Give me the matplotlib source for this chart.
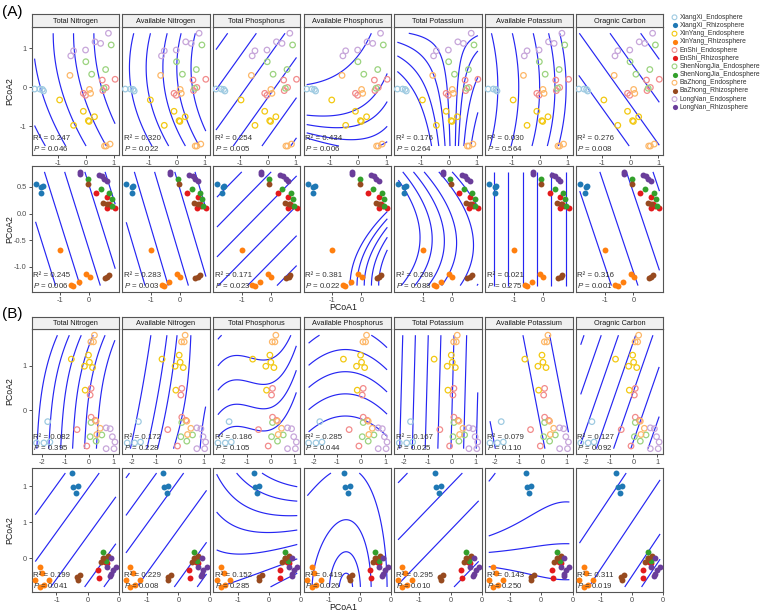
import numpy as np
import matplotlib.pyplot as plt
from matplotlib import rcParams

rcParams['font.family'] = ['Liberation Sans', 'DejaVu Sans']
rcParams['mathtext.fontset'] = 'custom'
rcParams['mathtext.rm'] = 'Liberation Sans'
rcParams['mathtext.it'] = 'Liberation Sans:italic'
rcParams['contour.negative_linestyle'] = 'solid'

# groups / legend
groups = ['XiangXi_Endosphere', 'XiangXi_Rhizosphere', 'XinYang_Endosphere', 'XinYang_Rhizosphere',
          'EnShi_Endosphere', 'EnShi_Rhizosphere', 'ShenNongJia_Endosphere', 'ShenNongJia_Endosphere',
          'BaZhong_Endosphere', 'BaZhong_Rhizosphere', 'LongNan_Endosphere', 'LongNan_Rhizosphere']
colors = ['#9ECAE1', '#1F78B4', '#F2C811', '#FF7F0E', '#F28B8B', '#E31A1C',
          '#9BD37F', '#33A02C', '#FDB768', '#974A1F', '#C7A6DA', '#6A3D9A']
variables = ['Total Nitrogen', 'Available Nitrogen', 'Total Phosphorus', 'Available Phosphorus',
             'Total Potassium', 'Available Potassium', 'Oragnic Carbon']

# (A) endosphere samples
ae_x = [-1.85, -1.66, -1.57, -1.53,
        -0.95, -0.10, 0.08, 0.11, 0.30, -0.45,
        0.58, 1.04, -0.10, -0.02, 0.60, 0.72,
        0.90, -0.01, 0.20, 0.70, 0.64,
        -0.58, 0.12, 0.16, 0.66, 0.72, 0.86,
        0.80, 0.32, 0.52, -0.45, -0.55, -0.02]
ae_y = [-0.05, -0.05, -0.06, -0.10,
        -0.33, -0.62, -0.86, -0.88, -0.76, -0.98,
        0.18, 0.20, -0.16, -0.21, -0.09, -0.01,
        1.08, 0.65, 0.33, 0.45, -0.03,
        0.30, -0.06, -0.16, -1.51, -1.51, -1.46,
        1.38, 1.16, 1.12, 0.93, 0.80, 0.95]
ae_g = [0]*4 + [2]*6 + [4]*6 + [6]*5 + [8]*6 + [10]*6

# (A) rhizosphere samples
ar_x = [-1.86, -1.66, -1.61, -1.67,
        -1.00, -0.63, -0.55, -0.37, -0.10, 0.01,
        0.24, 0.61, 0.60, 0.74, 0.90, 0.68,
        -0.06, 0.41, 0.70, 0.78, 0.80,
        -0.05, 0.49, 0.62, 0.53, 0.62, 0.68,
        -0.33, -0.33, 0.33, 0.44, 0.52, 0.61]
ar_y = [0.55, 0.50, 0.51, 0.39,
        -0.68, -1.33, -1.35, -1.28, -1.14, -1.18,
        0.39, 0.30, 0.11, 0.14, 0.10, 0.18,
        0.65, 0.46, 0.39, 0.28, 0.14,
        0.56, 0.20, 0.18, -1.20, -1.18, -1.16,
        0.78, 0.74, 0.73, 0.70, 0.65, 0.61]
ar_g = [1]*4 + [3]*6 + [5]*6 + [7]*5 + [9]*6 + [11]*6

# (B) endosphere samples
be_x = [-1.74, -2.21, -1.90, -1.65,
        -0.75, -0.03, 0.01, -0.20, 0.14, -0.17,
        0.08, 0.04, 0.08, 0.25, -0.51, -0.10,
        0.08, 0.04, 0.29, 0.53,
        0.22, 0.07, 0.18, 0.29, 0.46, 0.32,
        0.71, 0.88, 0.97, 1.08, 0.71, 1.04]
be_y = [-0.26, -0.74, -0.74, -0.72,
        1.15, 1.24, 1.08, 0.99, 0.96, 0.45,
        0.49, 0.34, -0.16, -0.23, -0.44, -0.81,
        -0.28, -0.60, -0.70, -0.56,
        1.69, 1.54, 1.54, -0.25, -0.41, -0.55,
        -0.40, -0.42, -0.60, -0.72, -0.87, -0.87]
be_g = [0]*4 + [2]*6 + [4]*6 + [6]*4 + [8]*6 + [10]*6

# (B) rhizosphere samples
br_x = [-0.75, -0.73, -0.66, -0.69,
        -1.27, -1.23, -1.34, -1.12, -1.20, -1.27,
        -0.33, -0.32, -0.19, -0.22,
        -0.25, -0.24, -0.18, -0.20,
        -0.67, -0.62, -0.66, -0.29, -0.18, -0.25,
        -0.13, -0.19, -0.05, -0.10, -0.13, -0.14]
br_y = [1.18, 0.98, 1.00, 0.91,
        -0.12, -0.20, -0.31, -0.31, -0.37, -0.40,
        -0.16, -0.27, -0.07, -0.05,
        0.09, 0.00, 0.02, -0.04,
        -0.26, -0.24, -0.31, -0.05, 0.03, 0.00,
        0.00, -0.13, -0.12, -0.16, -0.22, -0.25]
br_g = [1]*4 + [3]*6 + [5]*4 + [7]*4 + [9]*6 + [11]*6

# fitted surfaces (ordisurf), polynomial in u=x-x0, v=y-y0
# terms: u, v, u2, uv, v2, u3, u2v, uv2, v3
ae_origin = [(0, 0), (0, 0), (0, 0), (0, 0), (0.15, 1.6), (0, 0), (0, 0)]
ae_coef = [[1, 0.39, 0, 0, -0.14, 0, 0, 0, 0],
           [1, 0.2, 0, 0, -0.2, 0, 0, 0, 0],
           [-1, 1, 0, 0, 0, 0, 0, 0, 0],
           [-0.6, 1, -0.12, -0.4, 0, 0, 0, 0, 0],
           [0, 0, 0, 1, 0, 0, 0, 0, 0],
           [1, 0, 0, 0, 0.12, 0, 0, 0, 0],
           [1, 1, 0, 0, 0, 0, 0, 0, 0]]
ae_levels = [[-2.37, -1.64, -0.91, -0.18, 0.55],
             [-1.65, -1.05, -0.45, 0.05, 0.56],
             [-2.34, -1.31, -0.28, 0.75, 1.78, 2.81],
             [-1.57, -1.34, -0.97, -0.55, 0.81],
             [-2.0, -1.2, -0.6, -0.25, 0.35, 0.9, 1.6, 2.4],
             [-1.5, -0.75, 0.0, 0.55, 0.95],
             [-1.55, -0.45, 0.65, 1.75]]
ae_r2 = ['0.247', '0.320', '0.254', '0.434', '0.176', '0.030', '0.276']
ae_p = ['0.046', '0.022', '0.005', '0.006', '0.264', '0.564', '0.008']

ar_origin = [(0, 0), (0, 0), (0, 0), (0, -1.35), (0, 0), (0, 0), (0, 0)]
ar_coef = [[1, 0.58, 0, 0, 0, 0, 0, 0, 0],
           [1, 0.55, 0, 0, 0, 0, 0, 0, 0],
           [-0.55, 1, 0, 0, 0, 0, 0, 0, 0],
           [1, 0, 0, 0, -0.67, 0, 0, 0, 0],
           [1, 0.74, 0, 0.105, 0.69, 0, 0, 0, 0],
           [1, 0, 0, 0, 0, 0, 0, 0, 0],
           [1, 0.62, 0, 0, 0, 0, 0, 0, 0]]
ar_levels = [[-1.95, -1.1, -0.4, 0.3, 1.0],
             [-1.95, -1.15, -0.45, 0.25, 0.95],
             [-1.47, -0.91, -0.35, 0.21, 0.77, 1.33],
             [-0.39, -0.15, 0.1, 0.35, 0.6],
             [-1.25, -0.85, -0.45, -0.05, 0.5, 1.0],
             [-1.7, -1.2, -0.7, -0.2, 0.3, 0.8],
             [-1.6, -0.68, 0.24, 1.16]]
ar_r2 = ['0.245', '0.283', '0.171', '0.381', '0.208', '0.021', '0.316']
ar_p = ['0.006', '0.003', '0.023', '0.022', '0.088', '0.275', '0.001']

be_origin = [(0, -0.9), (0.29, -0.87), (-0.3, 0), (0, 0), (0, 0), (0, 0), (0, 0)]
be_coef = [[1, -0.1, 0, 0, 0, 0, 0, 0, -0.035],
           [0, -0.23, -1, 0.71, 0, 0, 0, 0, 0],
           [0, 1, -0.25, 0, 0, -0.15, 0, 0, 0],
           [0.2, 1, 0.15, 0, 0, 0, 0, 0, 0],
           [1, -0.05, 0, 0, 0, 0, 0, 0, 0],
           [1, 0.36, 0, 0, 0, 0, 0, 0, 0],
           [-1.55, 1, 0, 0, 0, 0, 0, 0, 0]]
be_levels = [[-2.2, -1.7, -1.2, -0.7, -0.2, 0.3],
             [-5.6, -2.8, -1.5, -0.31],
             [-0.47, 0.03, 0.58, 1.13, 1.73],
             [-0.2, 0.3, 0.8, 1.3, 1.8],
             [-2.15, -1.62, -1.08, -0.55, 0.0, 0.53, 1.06],
             [-2.3, -0.22, 0.9],
             [-1.82, -0.7, 0.42, 1.54, 2.66, 3.78, 4.9]]
be_r2 = ['0.082', '0.172', '0.186', '0.285', '0.167', '0.079', '0.127']
be_p = ['0.395', '0.228', '0.105', '0.044', '0.025', '0.110', '0.092']

br_origin = [(0, 0), (0, 0), (-1.3, 0.3), (-0.72, -0.45), (0, 0), (-0.1, 0), (0, 0)]
br_coef = [[-1.2, 1, 0, 0, 0, 0, 0, 0, 0],
           [-1.2, 1, 0, 0, 0, 0, 0, 0, 0],
           [0.56, 1, -0.4, 1.2, 0, 0, 0, 0, 0],
           [0, 0, -1, 0, -0.207, -0.6, 0, 0, 0],
           [-0.9, 1, 0, 0, 0, 0, 0, 0, 0],
           [0, 1, 0, 0, 0, 0, 1.0, 0, 0],
           [-1.3, 1, 0, 0, 0, 0, 0, 0, 0]]
br_levels = [[-0.11, 0.26, 0.91, 1.56, 2.21],
             [-0.16, 0.28, 1.0, 1.68, 2.2, 2.72],
             [-1.2, -0.7, -0.2, 0.3, 0.8, 1.3, 1.8],
             [-0.6, -0.2, -0.06, -0.012],
             [0.0, 0.84, 1.46, 2.25],
             [-0.3, 0.2, 0.78, 2.7],
             [0.05, 0.4, 1.15, 1.95]]
br_r2 = ['0.199', '0.229', '0.152', '0.419', '0.295', '0.143', '0.311']
br_p = ['0.041', '0.008', '0.285', '0.026', '0.010', '0.250', '0.019']


def surface(coef, origin, X, Y):
    u = X - origin[0]
    v = Y - origin[1]
    terms = [u, v, u**2, u*v, v**2, u**3, u**2*v, u*v**2, v**3]
    return sum(c*t for c, t in zip(coef, terms))


rows = [
    dict(x=ae_x, y=ae_y, g=ae_g, org=ae_origin, coef=ae_coef, lev=ae_levels, r2=ae_r2, p=ae_p,
         top=27, bottom=155, strip=14, xlim=(-1.96, 1.18), ylim=(-1.74, 1.54),
         xt=[-1, 0, 1], xtl=['-1', '0', '1'], yt=[-1, 0, 1], ytl=['-1', '0', '1']),
    dict(x=ar_x, y=ar_y, g=ar_g, org=ar_origin, coef=ar_coef, lev=ar_levels, r2=ar_r2, p=ar_p,
         top=166, bottom=292, strip=None, xlim=(-2.0, 1.03), ylim=(-1.47, 0.89),
         xt=[-1, 0], xtl=['-1', '0'], yt=[-1, -0.5, 0, 0.5], ytl=['-1.0', '-0.5', '0.0', '0.5']),
    dict(x=be_x, y=be_y, g=be_g, org=be_origin, coef=be_coef, lev=be_levels, r2=be_r2, p=be_p,
         top=329, bottom=454, strip=317, xlim=(-2.42, 1.25), ylim=(-0.99, 1.83),
         xt=[-2, -1, 0, 1], xtl=['-2', '-1', '0', '1'], yt=[0, 1], ytl=['0', '1']),
    dict(x=br_x, y=br_y, g=br_g, org=br_origin, coef=br_coef, lev=br_levels, r2=br_r2, p=br_p,
         top=468, bottom=592, strip=None, xlim=(-1.40, 0.0), ylim=(-0.47, 1.25),
         xt=[-1, -0.5, 0], xtl=['-1', '0', '0'], yt=[0, 0.5, 1], ytl=['0', '1', '1']),
]

W, H = 767, 614
fig = plt.figure(figsize=(W/100, H/100), dpi=100)
edge = '#555555'
pw = 87.5

for row in rows:
    x = np.array(row['x'])
    y = np.array(row['y'])
    g = np.array(row['g'])
    gx, gy = np.meshgrid(np.linspace(x.min(), x.max(), 120), np.linspace(y.min(), y.max(), 120))
    for i in range(7):
        left = 31.5 + 90.7*i
        ax = fig.add_axes([left/W, 1 - row['bottom']/H, pw/W, (row['bottom'] - row['top'])/H])
        Z = surface(row['coef'][i], row['org'][i], gx, gy)
        ax.contour(gx, gy, Z, levels=sorted(row['lev'][i]), colors='#2626F2', linewidths=0.85,
                   linestyles='solid', zorder=2)
        for k in np.unique(g):
            m = g == k
            if k % 2 == 0:
                ax.scatter(x[m], y[m], s=16, facecolors='none', edgecolors=colors[k], linewidths=0.9, zorder=3)
            else:
                ax.scatter(x[m], y[m], s=18, color=colors[k], linewidths=0, zorder=3)
        ax.set_xlim(row['xlim'])
        ax.set_ylim(row['ylim'])
        ax.set_xticks(row['xt'], row['xtl'])
        ax.set_yticks(row['yt'], row['ytl'])
        ax.tick_params(length=2, width=0.6, color='#333333', labelsize=5.3, pad=1.5, labelcolor='#4D4D4D')
        if i > 0:
            ax.tick_params(axis='y', length=0, labelleft=False)
        for s in ax.spines.values():
            s.set_color(edge)
            s.set_linewidth(0.8)
        ax.text(0.02, 0.12, 'R² = ' + row['r2'][i], transform=ax.transAxes, fontsize=5.7, color='#333333')
        ax.text(0.02, 0.035, '$P$ = ' + row['p'][i], transform=ax.transAxes, fontsize=5.7, color='#333333')
        if row['strip'] is not None:
            sax = fig.add_axes([left/W, 1 - row['top']/H, pw/W, (row['top'] - row['strip'])/H])
            sax.set_facecolor('#F0F0F0')
            sax.set_xticks([])
            sax.set_yticks([])
            for s in sax.spines.values():
                s.set_color(edge)
                s.set_linewidth(0.8)
            sax.text(0.5, 0.45, variables[i], ha='center', va='center', fontsize=5.3, color='#1A1A1A')
    fig.text(10/W, 1 - (row['top'] + row['bottom'])/2/H, 'PCoA2', rotation=90, ha='center', va='center',
             fontsize=6.3, color='#1A1A1A')

fig.text(343/W, 1 - 307/H, 'PCoA1', ha='center', va='center', fontsize=6.3, color='#1A1A1A')
fig.text(343/W, 1 - 607/H, 'PCoA1', ha='center', va='center', fontsize=6.3, color='#1A1A1A')
fig.text(2/W, 1 - 12/H, '(A)', ha='left', va='center', fontsize=11)
fig.text(2/W, 1 - 314/H, '(B)', ha='left', va='center', fontsize=11)

# legend
lax = fig.add_axes([0, 0, 1, 1], facecolor='none')
lax.set_xlim(0, W)
lax.set_ylim(H, 0)
lax.axis('off')
for k, name in enumerate(groups):
    ly = 17.3 + 8.18*k
    if k % 2 == 0:
        lax.scatter(674.5, ly, s=12, facecolors='none', edgecolors=colors[k], linewidths=0.8)
    else:
        lax.scatter(674.5, ly, s=14, color=colors[k], linewidths=0)
    lax.text(680, ly, name, ha='left', va='center', fontsize=4.9, color='#333333')

fig.savefig('out.png', dpi=100)
